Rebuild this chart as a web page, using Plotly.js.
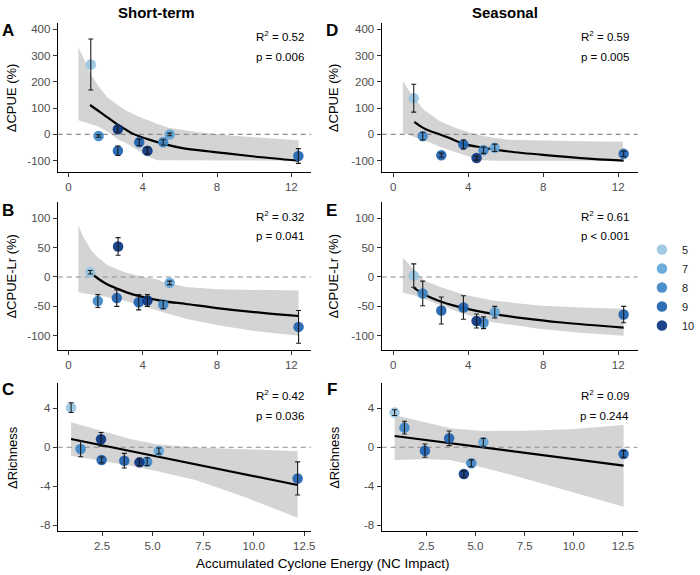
<!DOCTYPE html>
<html>
<head>
<meta charset="utf-8">
<script src="https://cdn.plot.ly/plotly-3.0.1.min.js"></script>
<style>html,body{margin:0;padding:0;background:#fff;}#chart{width:700px;height:575px;}</style>
</head>
<body>
<div id="chart"></div>
<script>
// ---------- categories ----------
const categories = [5, 7, 8, 9, 10];
const catColors = ['#9ac6e3', '#62a6d8', '#3f86c6', '#1f62b2', '#0a3682'];

// ---------- Short-term ----------
const catShort = [5, 8, 10, 9, 9, 10, 8, 7, 9];
// A: ΔCPUE
const aceA  = [1.20, 1.62, 2.66, 2.66, 3.81, 4.25, 5.10, 5.45, 12.38];
const cpueA = [266, -6, 20, -62, -30, -62, -30, 0, -82];
const errA  = [97, 5, 12, 18, 12, 12, 10, 5, 28];
const fitAx = [1.16, 1.6, 2.0, 2.55, 3.0, 3.43, 4.3, 5.18, 6.06, 8, 10, 12.38];
const fitAy = [112, 90, 70, 42, 22, 4, -19, -37, -51, -68, -84, -100];
const ribAx = [0.53, 0.8, 1.23, 1.6, 2.11, 2.7, 3.07, 3.7, 4.3, 4.8, 5.45, 7, 9, 12.39];
const ribAup = [333, 290, 225, 185, 140, 110, 92, 70, 52, 40, 24, 8, -6, -22];
const ribAlo = [54, 48, 38, 30, 10, -20, -32, -58, -85, -98, -100, -100, -100, -100];
// B: ΔCPUE-Lr
const aceB = [1.17, 1.58, 2.67, 2.60, 3.78, 4.25, 5.10, 5.45, 12.39];
const lrB  = [8, -41, 52, -36, -43, -40, -47, -10, -85];
const errB = [3, 11, 15, 14, 13, 10, 7, 3, 28];
const fitBx = [1.14, 1.6, 2.0, 2.64, 3.2, 3.86, 5.1, 6.33, 8, 10, 12.39];
const fitBy = [8.6, -3, -11, -20, -27, -33, -41, -46, -53, -60, -66.5];
const ribBx = [0.53, 0.8, 1.23, 1.6, 2.11, 2.99, 4.04, 4.74, 5.1, 6.33, 8, 10, 12.39];
const ribBup = [88, 68, 45, 33, 20, 8.6, 0, -4, -8.5, -17, -21, -22, -23];
const ribBlo = [-26, -28, -30, -31, -34, -40, -50, -57, -60, -71, -82, -92, -100];
// C: ΔRichness
const aceC  = [0.97, 1.44, 2.45, 2.48, 3.60, 4.35, 4.73, 5.31, 12.17];
const richC = [4.07, -0.18, 0.82, -1.30, -1.38, -1.55, -1.48, -0.38, -3.20];
const errC  = [0.5, 0.8, 0.7, 0.3, 0.75, 0.35, 0.4, 0.3, 1.7];
const fitCx = [0.97, 12.17];
const fitCy = [0.85, -3.88];
const ribCx = [0.97, 2.29, 3.9, 5.19, 7.11, 9.52, 12.17];
const ribCup = [2.57, 1.78, 0.86, 0.31, -0.03, -0.2, -0.4];
const ribClo = [-0.86, -1.31, -1.9, -2.44, -3.37, -5.08, -7.24];

// ---------- Seasonal ----------
const catSeas = [5, 8, 9, 9, 10, 8, 7, 9];
// D: ΔCPUE
const aceD  = [1.10, 1.58, 2.57, 3.75, 4.45, 4.82, 5.42, 12.29];
const cpueD = [138, -6.5, -79, -38, -90, -60, -51, -74];
const errD  = [53, 15, 8, 17, 8, 12, 14, 10];
const fitDx = [1.13, 1.6, 2.0, 2.5, 3.0, 3.74, 4.78, 5.48, 6.17, 8, 10, 12.29];
const fitDy = [48, 25, 12, 0, -14, -36, -50, -58, -65, -78, -90, -100];
const ribDx = [0.52, 1.0, 1.65, 2.17, 2.52, 3.2, 3.74, 3.9, 4.6, 5.3, 6.17, 8, 10, 12.25];
const ribDup = [203, 150, 93, 68, 49, 28, 14, 11, -3, -12, -20, -24, -26, -28];
const ribDlo = [5, -8, -22, -36, -48, -64, -75, -79, -97, -100, -100, -100, -100, -100];
// E: ΔCPUE-Lr
const aceE = [1.10, 1.58, 2.57, 3.75, 4.45, 4.82, 5.42, 12.29];
const lrE  = [2.4, -28, -57, -52, -75, -78, -60, -64];
const errE = [20, 21, 23, 20, 12, 10, 10, 14];
const fitEx = [1.1, 1.58, 2.0, 2.57, 3.2, 3.75, 4.45, 5.42, 7, 9, 12.29];
const fitEy = [-18, -28.3, -35, -42.1, -48.3, -52.8, -57.6, -63.2, -70.5, -77.6, -86.4];
const ribEx = [0.52, 1.13, 1.65, 2.52, 3.74, 5.3, 7.74, 10, 12.29];
const ribEup = [33, 11, -6, -17, -30, -40, -48.5, -52, -54.3];
const ribElo = [-27, -31, -37, -48, -62.5, -77, -88, -95, -100];
// F: ΔRichness
const aceF  = [0.89, 1.39, 2.43, 3.66, 4.41, 4.79, 5.40, 12.53];
const richF = [3.56, 2.02, -0.35, 0.92, -2.75, -1.65, 0.51, -0.69];
const errF  = [0.3, 0.65, 0.68, 0.75, 0.3, 0.35, 0.4, 0.35];
const fitFx = [0.89, 12.53];
const fitFy = [1.16, -1.89];
const ribFx = [0.89, 2.38, 3.71, 5.37, 7.36, 9.84, 12.53];
const ribFup = [3.32, 2.56, 1.95, 1.67, 1.7, 1.85, 2.29];
const ribFlo = [-1.31, -1.24, -1.31, -2.09, -3.12, -4.56, -6.1];

// ---------- stats & labels ----------
const panelLetters = ['A', 'D', 'B', 'E', 'C', 'F'];
const r2Vals = ['0.52', '0.59', '0.32', '0.61', '0.42', '0.09'];
const pVals  = ['p = 0.006', 'p = 0.005', 'p = 0.041', 'p < 0.001', 'p = 0.036', 'p = 0.244'];
const yTitles = ['ΔCPUE (%)', 'ΔCPUE (%)', 'ΔCPUE-Lr (%)', 'ΔCPUE-Lr (%)', 'ΔRichness', 'ΔRichness'];
const colTitles = ['Short-term', 'Seasonal'];
const xTitle = 'Accumulated Cyclone Energy (NC Impact)';
const ticksInt = [0, 4, 8, 12];
const ticksDec = [2.5, 5, 7.5, 10, 12.5];
const ticksDecText = ['2.5', '5.0', '7.5', '10.0', '12.5'];
const yTicksCPUE = [-100, 0, 100, 200, 300, 400];
const yTicksLr = [-100, -50, 0, 50, 100];
const yTicksRich = [-8, -4, 0, 4];

// ---------- layout geometry (pixels) ----------
const W = 700, H = 575;
const px = p => p / W, py = p => 1 - p / H;
const colPx = [[59, 318], [390, 651.7]];
const rowPx = [[23, 172], [201.7, 350], [383.3, 531]];

const panels = [
  {x: aceA, y: cpueA, e: errA, c: catShort, fx: fitAx, fy: fitAy, rx: ribAx, ru: ribAup, rl: ribAlo,
   xr: [-0.58, 13.07], yr: [-143, 424], xt: ticksInt, xtt: null, yt: yTicksCPUE, row: 0, col: 0},
  {x: aceD, y: cpueD, e: errD, c: catSeas, fx: fitDx, fy: fitDy, rx: ribDx, ru: ribDup, rl: ribDlo,
   xr: [-0.61, 13.04], yr: [-143, 424], xt: ticksInt, xtt: null, yt: yTicksCPUE, row: 0, col: 1},
  {x: aceB, y: lrB, e: errB, c: catShort, fx: fitBx, fy: fitBy, rx: ribBx, ru: ribBup, rl: ribBlo,
   xr: [-0.58, 13.07], yr: [-124.4, 128.3], xt: ticksInt, xtt: null, yt: yTicksLr, row: 1, col: 0},
  {x: aceE, y: lrE, e: errE, c: catSeas, fx: fitEx, fy: fitEy, rx: ribEx, ru: ribEup, rl: ribElo,
   xr: [-0.61, 13.04], yr: [-124.4, 128.3], xt: ticksInt, xtt: null, yt: yTicksLr, row: 1, col: 1},
  {x: aceC, y: richC, e: errC, c: catShort, fx: fitCx, fy: fitCy, rx: ribCx, ru: ribCup, rl: ribClo,
   xr: [0.31, 12.84], yr: [-8.6, 6.57], xt: ticksDec, xtt: ticksDecText, yt: yTicksRich, row: 2, col: 0},
  {x: aceF, y: richF, e: errF, c: catSeas, fx: fitFx, fy: fitFy, rx: ribFx, ru: ribFup, rl: ribFlo,
   xr: [0.23, 13.25], yr: [-8.6, 6.57], xt: ticksDec, xtt: ticksDecText, yt: yTicksRich, row: 2, col: 1}
];

const FONT = 'Liberation Sans, Arial, sans-serif';
const traces = [];
const layout = {
  width: W, height: H,
  margin: {l: 0, r: 0, t: 0, b: 0},
  paper_bgcolor: '#fff', plot_bgcolor: '#fff',
  font: {family: FONT, color: '#000'},
  showlegend: true,
  legend: {x: px(656), y: py(235), xanchor: 'left', yanchor: 'top', font: {size: 11, color: '#222'},
           tracegroupgap: 0, bgcolor: 'rgba(0,0,0,0)', itemwidth: 30},
  annotations: []
};

panels.forEach((p, i) => {
  const n = i + 1;
  const xa = 'x' + (n === 1 ? '' : n), ya = 'y' + (n === 1 ? '' : n);
  const xKey = 'xaxis' + (n === 1 ? '' : n), yKey = 'yaxis' + (n === 1 ? '' : n);
  const cp = colPx[p.col], rp = rowPx[p.row];
  layout[xKey] = {
    domain: [px(cp[0]), px(cp[1])], anchor: ya, range: p.xr,
    showline: true, linecolor: '#000', linewidth: 1.1, ticks: 'outside', ticklen: 4, tickcolor: '#333',
    tickvals: p.xt, ticktext: p.xtt || p.xt.map(String), tickfont: {size: 11.5, color: '#4d4d4d'},
    showgrid: false, zeroline: false, fixedrange: true
  };
  layout[yKey] = {
    domain: [py(rp[1]), py(rp[0])], anchor: xa, range: p.yr,
    showline: true, linecolor: '#000', linewidth: 1.1, ticks: 'outside', ticklen: 4, tickcolor: '#333',
    tickvals: p.yt, ticktext: p.yt.map(String), tickfont: {size: 11.5, color: '#4d4d4d'},
    showgrid: false, zeroline: false, fixedrange: true
  };
  // ribbon
  traces.push({
    type: 'scatter', mode: 'lines', xaxis: xa, yaxis: ya, hoverinfo: 'skip', showlegend: false,
    x: p.rx.concat(p.rx.slice().reverse()), y: p.ru.concat(p.rl.slice().reverse()),
    fill: 'toself', fillcolor: '#d4d4d4', line: {width: 0, color: 'rgba(0,0,0,0)'}
  });
  // dashed zero line across the axis range
  traces.push({
    type: 'scatter', mode: 'lines', xaxis: xa, yaxis: ya, hoverinfo: 'skip', showlegend: false,
    x: p.xr, y: [0, 0], line: {color: '#8c8c8c', width: 1.1, dash: '5px,4px'}
  });
  // fitted line
  traces.push({
    type: 'scatter', mode: 'lines', xaxis: xa, yaxis: ya, hoverinfo: 'skip', showlegend: false,
    x: p.fx, y: p.fy, line: {color: '#000', width: 2.2, shape: 'spline', smoothing: 1}
  });
  // points by category
  categories.forEach((c, k) => {
    const idx = p.c.map((v, j) => v === c ? j : -1).filter(j => j >= 0);
    traces.push({
      type: 'scatter', mode: 'markers', xaxis: xa, yaxis: ya, name: String(c), legendgroup: 'c' + c,
      showlegend: i === 0,
      x: idx.map(j => p.x[j]), y: idx.map(j => p.y[j]),
      marker: {color: catColors[k], size: 10.5, opacity: 0.93, line: {width: 0}}
    });
  });
  // error bars on top
  traces.push({
    type: 'scatter', mode: 'markers', xaxis: xa, yaxis: ya, hoverinfo: 'skip', showlegend: false,
    x: p.x, y: p.y, marker: {size: 1, color: 'rgba(0,0,0,0)'},
    error_y: {type: 'data', array: p.e, visible: true, color: '#1a1a1a', thickness: 1.1, width: 2.5}
  });
  // annotations
  const rx = p.col === 0 ? 313 : 645;
  const r2y = [36, 215.5, 395][p.row], pyy = [57, 236, 416][p.row];
  layout.annotations.push({xref: 'paper', yref: 'paper', x: px(rx), y: py(r2y), xanchor: 'right', yanchor: 'middle',
    text: 'R<sup>2</sup> = ' + r2Vals[i], showarrow: false, font: {size: 11.5, color: '#000'}});
  layout.annotations.push({xref: 'paper', yref: 'paper', x: px(rx), y: py(pyy), xanchor: 'right', yanchor: 'middle',
    text: pVals[i], showarrow: false, font: {size: 11.5, color: '#000'}});
  const lx = p.col === 0 ? 8 : 339;
  const ly = [30, 211, 389][p.row];
  layout.annotations.push({xref: 'paper', yref: 'paper', x: px(lx), y: py(ly), xanchor: 'center', yanchor: 'middle',
    text: '<b>' + panelLetters[i] + '</b>', showarrow: false, font: {size: 17, color: '#000'}});
  const tx = p.col === 0 ? 12 : 341;
  layout.annotations.push({xref: 'paper', yref: 'paper', x: px(tx), y: py((rp[0] + rp[1]) / 2), xanchor: 'center', yanchor: 'middle',
    text: yTitles[i], textangle: -90, showarrow: false, font: {size: 13, color: '#000'}});
});

layout.annotations.push({xref: 'paper', yref: 'paper', x: px(160), y: py(12), xanchor: 'center', yanchor: 'middle',
  text: '<b>' + colTitles[0] + '</b>', showarrow: false, font: {size: 15, color: '#000'}});
layout.annotations.push({xref: 'paper', yref: 'paper', x: px(516), y: py(12), xanchor: 'center', yanchor: 'middle',
  text: '<b>' + colTitles[1] + '</b>', showarrow: false, font: {size: 15, color: '#000'}});
layout.annotations.push({xref: 'paper', yref: 'paper', x: px(330), y: py(563), xanchor: 'center', yanchor: 'middle',
  text: xTitle, showarrow: false, font: {size: 13.5, color: '#000'}});

Plotly.newPlot('chart', traces, layout, {staticPlot: true, displayModeBar: false});
</script>
</body>
</html>
